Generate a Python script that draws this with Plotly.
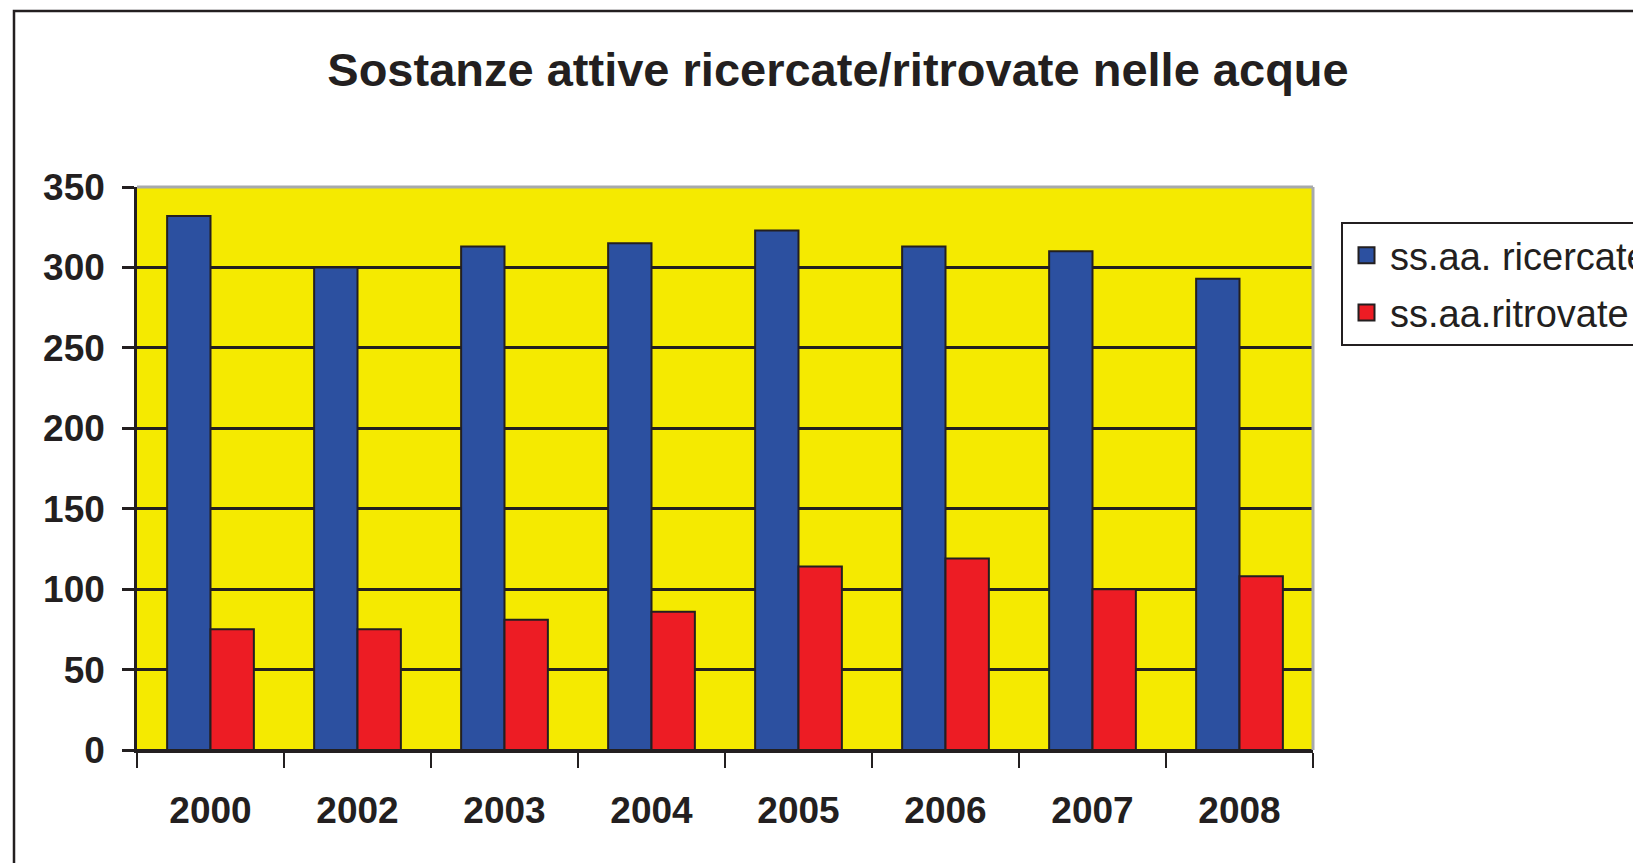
import plotly.graph_objects as go

years = ["2000", "2002", "2003", "2004", "2005", "2006", "2007", "2008"]
ricercate = [332, 300, 313, 315, 323, 313, 310, 293]
ritrovate = [75, 75, 81, 86, 114, 119, 100, 108]
series_names = ["ss.aa. ricercate", "ss.aa.ritrovate"]
series_colors = ["#2C50A0", "#ED1C24"]
title_text = "Sostanze attive ricercate/ritrovate nelle acque"

W, H = 1641, 863
L, R, T, B = 129, 1305, 179, 742
pw, ph = R - L, B - T

def px_x(x):
    return (x - L) / pw

def px_y(y):
    return (B - y) / ph

FONT = "Liberation Sans, Arial, sans-serif"
INK = "#231F20"

fig = go.Figure()
for name, vals, col in zip(series_names, [ricercate, ritrovate], series_colors):
    fig.add_trace(go.Bar(x=years, y=vals, name=name, showlegend=False,
                         marker=dict(color=col, line=dict(color=INK, width=2))))
# legend entries with larger square swatches
for name, col, grp in zip(series_names, series_colors, ["a", "b"]):
    fig.add_trace(go.Scatter(x=[None], y=[None], name=name, mode="markers",
                             legendgroup=grp,
                             marker=dict(symbol="square", size=16, color=col,
                                         line=dict(color=INK, width=2))))

fig.update_layout(
    width=W, height=H,
    margin=dict(l=L, r=W - R, t=T, b=H - B, pad=0, autoexpand=False),
    paper_bgcolor="white",
    plot_bgcolor="#F5EA00",
    barmode="group",
    bargap=0.41,
    bargroupgap=0,
    font=dict(family=FONT, color=INK),
    title=dict(text="<b>" + title_text + "</b>", x=830 / W, xanchor="center",
               y=1 - 62 / H, yanchor="middle",
               font=dict(size=47, family=FONT, color=INK)),
    legend=dict(x=px_x(1333), xanchor="left", y=px_y(214), yanchor="top",
                bgcolor="white", bordercolor=INK, borderwidth=2,
                font=dict(size=38, family=FONT, color=INK),
                tracegroupgap=5, itemsizing="trace", itemwidth=37),
    showlegend=True,
)

fig.update_yaxes(range=[0, 350], dtick=50, tick0=0,
                 showgrid=True, gridcolor=INK, gridwidth=2.5,
                 showline=True, linecolor=INK, linewidth=2.5,
                 ticks="outside", ticklen=12, tickwidth=2.5, tickcolor=INK,
                 tickfont=dict(size=37, family=FONT, color=INK, weight="bold"),
                 ticklabelstandoff=10,
                 zeroline=True, zerolinecolor=INK, zerolinewidth=3,
                 fixedrange=True)
fig.update_xaxes(type="category",
                 showline=True, linecolor=INK, linewidth=3,
                 ticks="outside", tickson="boundaries", ticklen=15, tickwidth=2,
                 tickcolor=INK,
                 tickfont=dict(size=37, family=FONT, color=INK, weight="bold"),
                 ticklabelstandoff=26,
                 showgrid=False, fixedrange=True)

# gray top and right plot edges
fig.add_shape(type="line", xref="paper", yref="paper", x0=0, x1=1, y0=1, y1=1,
              line=dict(color="#A7A9AC", width=3), layer="above")
fig.add_shape(type="line", xref="paper", yref="paper", x0=1, x1=1, y0=0, y1=1,
              line=dict(color="#A7A9AC", width=3), layer="above")
# outer chart frame (cropped on right/bottom)
fig.add_shape(type="rect", xref="paper", yref="paper",
              x0=px_x(6), x1=px_x(1700), y0=px_y(920), y1=px_y(3),
              line=dict(color=INK, width=2.5), fillcolor="rgba(0,0,0,0)",
              layer="below")

fig.write_html("out.html")
